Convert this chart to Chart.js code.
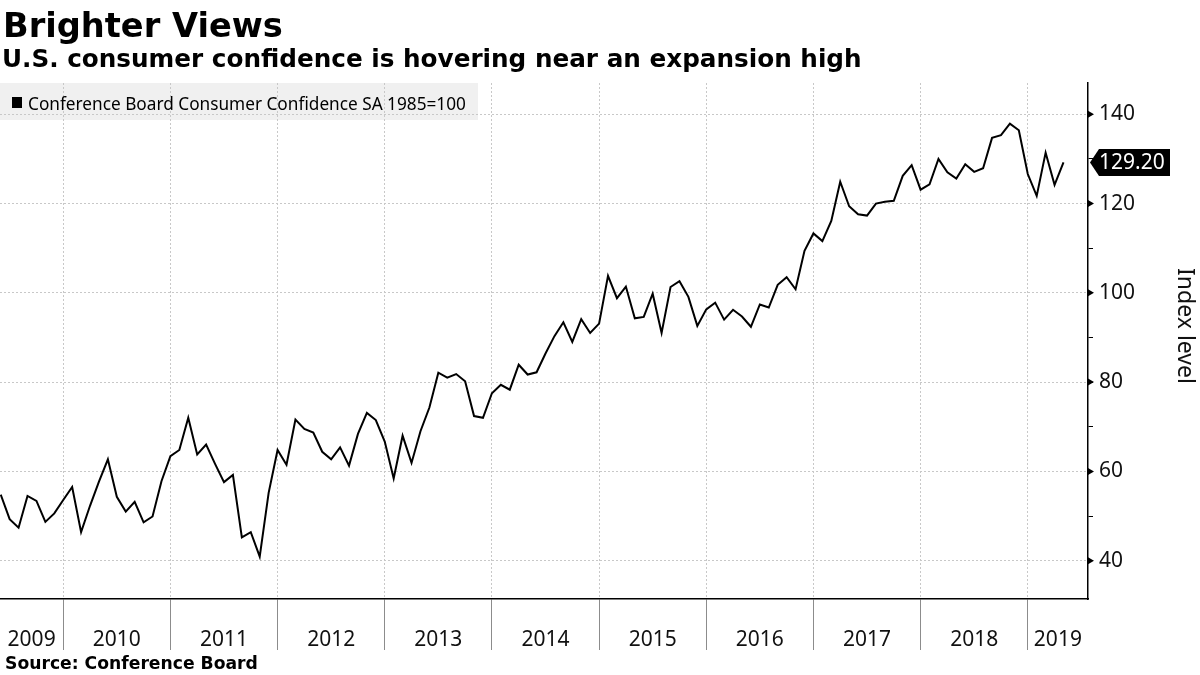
<!DOCTYPE html>
<html><head><meta charset="utf-8">
<script src="https://cdn.jsdelivr.net/npm/chart.js@4"></script>
<style>html,body{margin:0;padding:0;background:#fff;overflow:hidden}#wrap{position:relative;width:1200px;height:675px}</style>
</head><body><div id="wrap"><canvas id="c" width="1200" height="675"></canvas></div>
<script>
// ---- data ----
const title = 'Brighter Views';
const subtitle = 'U.S. consumer confidence is hovering near an expansion high';
const sourceText = 'Source: Conference Board';
const seriesName = 'Conference Board Consumer Confidence SA 1985=100';
const axisTitle = 'Index level';
const startYear = 2009;
const startMonth = 5; // May 2009, monthly, plotted at month end
const values = [
  54.8, 49.3, 47.4, 54.5, 53.4, 48.7, 50.6, 53.6,
  56.5, 46.4, 52.3, 57.7, 62.7, 54.3, 51.0, 53.2, 48.6, 49.9, 57.8, 63.4,
  64.8, 72.0, 63.8, 66.0, 61.7, 57.6, 59.2, 45.2, 46.4, 40.9, 55.2, 64.8,
  61.5, 71.6, 69.5, 68.7, 64.4, 62.7, 65.4, 61.3, 68.4, 73.1, 71.5, 66.7,
  58.4, 68.0, 61.9, 69.0, 74.3, 82.1, 81.0, 81.8, 80.2, 72.4, 72.0, 77.5,
  79.4, 78.3, 83.9, 81.7, 82.2, 86.4, 90.3, 93.4, 89.0, 94.1, 91.0, 93.1,
  103.8, 98.8, 101.4, 94.3, 94.6, 99.8, 91.0, 101.3, 102.6, 99.1, 92.6, 96.3,
  97.8, 94.0, 96.2, 94.7, 92.4, 97.4, 96.7, 101.8, 103.5, 100.8, 109.4, 113.3,
  111.6, 116.1, 124.9, 119.4, 117.6, 117.3, 120.0, 120.4, 120.6, 126.2, 128.6, 123.1,
  124.3, 130.0, 127.0, 125.6, 128.8, 127.1, 127.9, 134.7, 135.3, 137.9, 136.4, 126.6,
  121.7, 131.4, 124.2, 129.2
];
const yearLabels = ['2009','2010','2011','2012','2013','2014','2015','2016','2017','2018','2019'];
const yearBounds = [2010,2011,2012,2013,2014,2015,2016,2017,2018,2019];
const yTickValues = [40,50,60,70,80,90,100,110,120,130,140];
const X_MIN = 2009.41, X_MAX = 2019.562;
const Y_MIN = 31.42, Y_MAX = 147.0;

const points = values.map((v,i)=>({x: startYear + (startMonth + i)/12, y: v}));

const SANS = '"Noto Sans", "Open Sans", sans-serif';
const BOLD = '"DejaVu Sans", Verdana, sans-serif';

function fitText(ctx, text, weight, family, targetW, x, y){
  ctx.font = weight + ' 100px ' + family;
  const w = ctx.measureText(text).width;
  const size = 100*targetW/w;
  ctx.font = weight + ' ' + size + 'px ' + family;
  ctx.fillText(text, x, y);
}

const decor = {
  id:'decor',
  beforeDraw(chart){
    const ctx = chart.ctx;
    ctx.save();
    ctx.fillStyle = '#fff';
    ctx.fillRect(0,0,chart.width,chart.height);
    // legend box
    ctx.fillStyle = '#f0f0f0';
    ctx.fillRect(0, 83, 478, 37);
    ctx.restore();
  },
  afterDraw(chart){
    const ctx = chart.ctx;
    const xs = chart.scales.x, ys = chart.scales.y;
    const area = chart.chartArea;
    ctx.save();
    ctx.fillStyle = '#000';
    ctx.textBaseline = 'alphabetic';
    ctx.textAlign = 'left';
    fitText(ctx, title, 'bold', BOLD, 280, 3, 37);
    fitText(ctx, subtitle, 'bold', BOLD, 860, 2, 67);
    fitText(ctx, sourceText, 'bold', BOLD, 253, 5, 669);
    // legend
    ctx.fillStyle = '#000';
    ctx.fillRect(12, 97, 10, 11);
    fitText(ctx, seriesName, 'normal', SANS, 438, 28, 110);
    // year labels centered in each year span
    ctx.font = '21px ' + SANS;
    ctx.textAlign = 'center';
    ctx.fillStyle = '#111';
    yearLabels.forEach((lab)=>{
      const y0 = Math.max(X_MIN, +lab), y1 = Math.min(X_MAX, +lab + 1);
      const px = (xs.getPixelForValue(y0) + xs.getPixelForValue(y1))/2;
      ctx.fillText(lab, px, 646);
    });
    // major y tick triangles
    ctx.fillStyle = '#000';
    yTickValues.filter(v=>v%20===0).forEach(v=>{
      const py = ys.getPixelForValue(v);
      ctx.beginPath();
      ctx.moveTo(area.right, py-3.5);
      ctx.lineTo(area.right+6, py);
      ctx.lineTo(area.right, py+3.5);
      ctx.closePath();
      ctx.fill();
    });
    // axis title
    ctx.save();
    ctx.translate(1185, 326);
    ctx.rotate(Math.PI/2);
    ctx.textAlign = 'center';
    ctx.textBaseline = 'middle';
    ctx.font = '23px ' + SANS;
    ctx.fillStyle = '#111';
    ctx.fillText(axisTitle, 0, 0);
    ctx.restore();
    // last value tag
    const last = values[values.length-1];
    const py = ys.getPixelForValue(last);
    const x0 = area.right + 2;
    ctx.fillStyle = '#000';
    ctx.beginPath();
    ctx.moveTo(x0, py);
    ctx.lineTo(x0+9, py-13.5);
    ctx.lineTo(1170, py-13.5);
    ctx.lineTo(1170, py+13.5);
    ctx.lineTo(x0+9, py+13.5);
    ctx.closePath();
    ctx.fill();
    ctx.fillStyle = '#fff';
    ctx.font = '21px ' + SANS;
    ctx.textAlign = 'left';
    ctx.textBaseline = 'middle';
    ctx.fillText(last.toFixed(2), 1099, py+1);
    ctx.restore();
  }
};

new Chart(document.getElementById('c'), {
  type:'line',
  data:{datasets:[{label:seriesName, data:points, borderColor:'#000', borderWidth:2, pointRadius:0, tension:0, fill:false}]},
  options:{
    responsive:false, animation:false, devicePixelRatio:1,
    layout:{padding:{top:83,left:0,right:0,bottom:0}},
    plugins:{legend:{display:false}, tooltip:{enabled:false}, title:{display:false}},
    scales:{
      x:{
        type:'linear', min:X_MIN, max:X_MAX,
        afterBuildTicks:(s)=>{ s.ticks = yearBounds.map(v=>({value:v})); },
        afterFit:(s)=>{ s.height = 76; },
        ticks:{display:false},
        grid:{color:'#c8c8c8', lineWidth:1, drawTicks:true, tickLength:51, tickColor:'#8c8c8c', tickWidth:1, tickBorderDash:[]},
        border:{display:true, color:'#000', width:1.5, dash:[2,2]}
      },
      y:{
        position:'right', min:Y_MIN, max:Y_MAX,
        afterBuildTicks:(s)=>{ s.ticks = yTickValues.map(v=>({value:v})); },
        afterFit:(s)=>{ s.width = 112; },
        ticks:{callback:(v)=> v%20===0 ? String(v) : '', font:{family:SANS, size:21}, color:'#111', padding:6},
        grid:{color:(c)=> (c.tick && c.tick.value%20===0) ? '#c8c8c8' : 'rgba(0,0,0,0)', lineWidth:1, drawTicks:true, tickLength:5, tickColor:'#000', tickWidth:1, tickBorderDash:[]},
        border:{display:true, color:'#000', width:1.5, dash:[2,2]}
      }
    }
  },
  plugins:[decor]
});
</script>
</body></html>
